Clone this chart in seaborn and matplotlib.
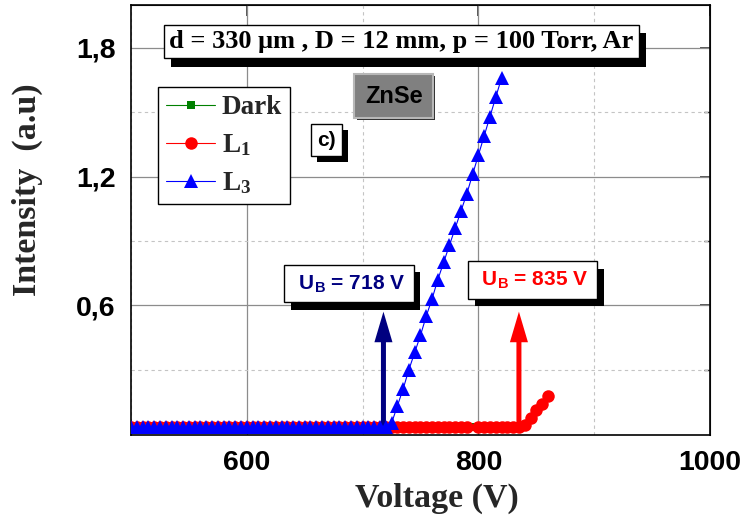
import matplotlib
matplotlib.use("Agg")
import matplotlib.pyplot as plt
import matplotlib.patheffects as pe
from matplotlib.lines import Line2D
from matplotlib.ticker import MultipleLocator, FixedLocator, FixedFormatter, NullFormatter
from matplotlib.font_manager import FontProperties
import seaborn as sns

sns.set_style("white")
plt.rcParams["font.family"] = ["Liberation Sans", "DejaVu Sans"]
plt.rcParams["mathtext.fontset"] = "custom"
plt.rcParams["mathtext.rm"] = "Liberation Serif:bold"
plt.rcParams["mathtext.it"] = "Liberation Serif:bold"
plt.rcParams["mathtext.bf"] = "Liberation Serif:bold"
plt.rcParams["mathtext.sf"] = "Liberation Sans:bold"

# ---- data -------------------------------------------------------------
baseline = 0.03

dark_v = list(range(500, 840, 5))
dark_i = [baseline] * len(dark_v)

l1_v = [v for v in range(500, 840, 5) if v != 795] + [840, 845, 850, 855, 860]
l1_i = [baseline] * (len(l1_v) - 5) + [0.04, 0.073, 0.11, 0.14, 0.175]

l3_flat_v = list(range(500, 725, 5))
l3_rise_v = [725, 730, 735, 740, 745, 750, 755, 760, 765, 770,
             775, 780, 785, 790, 795, 800, 805, 810, 815, 820]
l3_rise_i = [0.05, 0.13, 0.21, 0.30, 0.38, 0.46, 0.55, 0.63, 0.72, 0.80,
             0.88, 0.96, 1.04, 1.12, 1.21, 1.30, 1.39, 1.48, 1.57, 1.66]
l3_v = l3_flat_v + l3_rise_v
l3_i = [baseline] * len(l3_flat_v) + l3_rise_i

series_names = ["Dark", "L$_1$", "L$_3$"]

breakdown_l3 = 718
breakdown_l1 = 835
arrow_top = 0.57

ytick_values = [0.6, 1.2, 1.8]
ytick_labels = ["0,6", "1,2", "1,8"]
yminor_values = [0.3, 0.9, 1.5]

# ---- figure -----------------------------------------------------------
fig = plt.figure(figsize=(7.43, 5.30), dpi=100)
ax = fig.add_axes([131 / 743, 95 / 530, 579 / 743, 430 / 530])

GREEN, RED, BLUE, NAVY = "#008000", "#ff0000", "#0000ff", "#000080"
MS_SQ, MS_CI, MS_TR = 5.5, 9.0, 9.5

sns.lineplot(x=dark_v, y=dark_i, ax=ax, color=GREEN, marker="s", markersize=MS_SQ,
             markeredgewidth=0, linewidth=0.8, estimator=None, sort=False,
             legend=False, zorder=3)
sns.lineplot(x=l1_v, y=l1_i, ax=ax, color=RED, marker="o", markersize=MS_CI,
             markeredgewidth=0, linewidth=0.8, estimator=None, sort=False,
             legend=False, zorder=4)
sns.lineplot(x=l3_v, y=l3_i, ax=ax, color=BLUE, marker="^", markersize=MS_TR,
             markeredgewidth=0, linewidth=0.8, estimator=None, sort=False,
             legend=False, zorder=5)

ax.set_xlim(500, 1000)
ax.set_ylim(-0.005, 2.0)

# ticks and grid
ax.xaxis.set_major_locator(MultipleLocator(200))
ax.xaxis.set_minor_locator(MultipleLocator(100))
ax.yaxis.set_major_locator(FixedLocator(ytick_values))
ax.yaxis.set_major_formatter(FixedFormatter(ytick_labels))
ax.yaxis.set_minor_locator(FixedLocator(yminor_values))

ax.grid(which="major", color="#8c8c8c", linewidth=0.9, linestyle="-")
ax.grid(which="minor", color="#c4c4c4", linewidth=0.8, linestyle=(0, (3, 3)))
ax.set_axisbelow(True)

ax.tick_params(which="major", direction="out", length=6, width=1.1, pad=5,
               labelsize=20.5, colors="black")
ax.tick_params(which="minor", direction="out", length=4, width=1.0)
for lbl in ax.get_xticklabels() + ax.get_yticklabels():
    lbl.set_fontweight("bold")
    lbl.set_fontfamily("Liberation Sans")

for sp in ax.spines.values():
    sp.set_linewidth(1.2)
    sp.set_color("black")
    sp.set_visible(True)

top = ax.secondary_xaxis("top")
top.xaxis.set_major_locator(MultipleLocator(200))
top.xaxis.set_major_formatter(NullFormatter())
top.tick_params(which="major", direction="in", length=8, width=1.1)
right = ax.secondary_yaxis("right")
right.yaxis.set_major_locator(FixedLocator(ytick_values))
right.yaxis.set_minor_locator(FixedLocator(yminor_values))
right.yaxis.set_major_formatter(NullFormatter())
right.tick_params(which="major", direction="in", length=7, width=1.1)
right.tick_params(which="minor", direction="in", length=4, width=1.0)

label_font = dict(family="Liberation Serif", weight="bold", size=24.5)
ax.set_xlabel("Voltage (V)", fontdict=label_font)
ax.set_ylabel("Intensity  (a.u)", fontdict=label_font)
ax.xaxis.set_label_coords(0.529, -0.112)
ax.yaxis.set_label_coords(-0.152, 0.57)

# legend
handles = [
    Line2D([], [], color=GREEN, marker="s", markersize=MS_SQ, markeredgewidth=0, linewidth=0.8),
    Line2D([], [], color=RED, marker="o", markersize=MS_CI, markeredgewidth=0, linewidth=0.8),
    Line2D([], [], color=BLUE, marker="^", markersize=MS_TR, markeredgewidth=0, linewidth=0.8),
]
leg = ax.legend(handles, series_names, loc="upper left",
                bbox_to_anchor=(158 / 743, 1 - 87 / 530), bbox_transform=fig.transFigure,
                frameon=True, fancybox=False, edgecolor="black", framealpha=1,
                borderaxespad=0, borderpad=0.3, handlelength=1.8, handletextpad=0.25,
                labelspacing=0.45,
                prop=FontProperties(family="Liberation Serif", weight="bold", size=19.5))
leg.get_frame().set_linewidth(1.0)
leg.set_zorder(7)


def boxed(x, y, text, family, size, color, shadow, pad, face="white", edge="black"):
    t = ax.text(x, y, text, transform=ax.transAxes, ha="center", va="center",
                fontsize=size, fontfamily=family, fontweight="bold", color=color,
                zorder=8,
                bbox=dict(boxstyle=f"square,pad={pad}", fc=face, ec=edge, lw=1.0))
    t.get_bbox_patch().set_path_effects([
        pe.SimplePatchShadow(offset=shadow, shadow_rgbFace="black", alpha=1.0),
        pe.Normal()])
    return t


boxed(0.467, 0.915, "d = 330 \u03bcm , D = 12 mm, p = 100 Torr, Ar",
      "Liberation Serif", 19, "black", (5, -6), 0.2)
boxed(0.337, 0.686, "c)", "Liberation Sans", 15, "black", (4.3, -4.3), 0.3)

zn = ax.text(0.454, 0.788, "ZnSe", transform=ax.transAxes, ha="center", va="center",
             fontsize=17, fontfamily="Liberation Sans", fontweight="bold", color="black",
             zorder=8,
             bbox=dict(boxstyle="square,pad=0.45", fc="#808080", ec="#b8b8b8", lw=1.5))
zn.get_bbox_patch().set_path_effects([
    pe.SimplePatchShadow(offset=(1.5, -1.5), shadow_rgbFace="#303030", alpha=1.0),
    pe.Normal()])

boxed(0.3765, 0.352, r" $\mathsf{U}_{\mathsf{B}}$" + f" = {breakdown_l3} V ",
      "Liberation Sans", 15, NAVY, (4.8, -5.3), 0.4)
boxed(0.6934, 0.3605, r" $\mathsf{U}_{\mathsf{B}}$" + f" = {breakdown_l1} V ",
      "Liberation Sans", 15, RED, (4.8, -5.3), 0.4)

# breakdown arrows
for ub, col in [(breakdown_l3, NAVY), (breakdown_l1, RED)]:
    ax.annotate("", xy=(ub, arrow_top), xytext=(ub, baseline),
                arrowprops=dict(arrowstyle="simple,head_length=22,head_width=13,tail_width=3.6",
                                mutation_scale=1, lw=0, color=col, shrinkA=0, shrinkB=0),
                zorder=4.5)

fig.savefig("out.png", dpi=100)
